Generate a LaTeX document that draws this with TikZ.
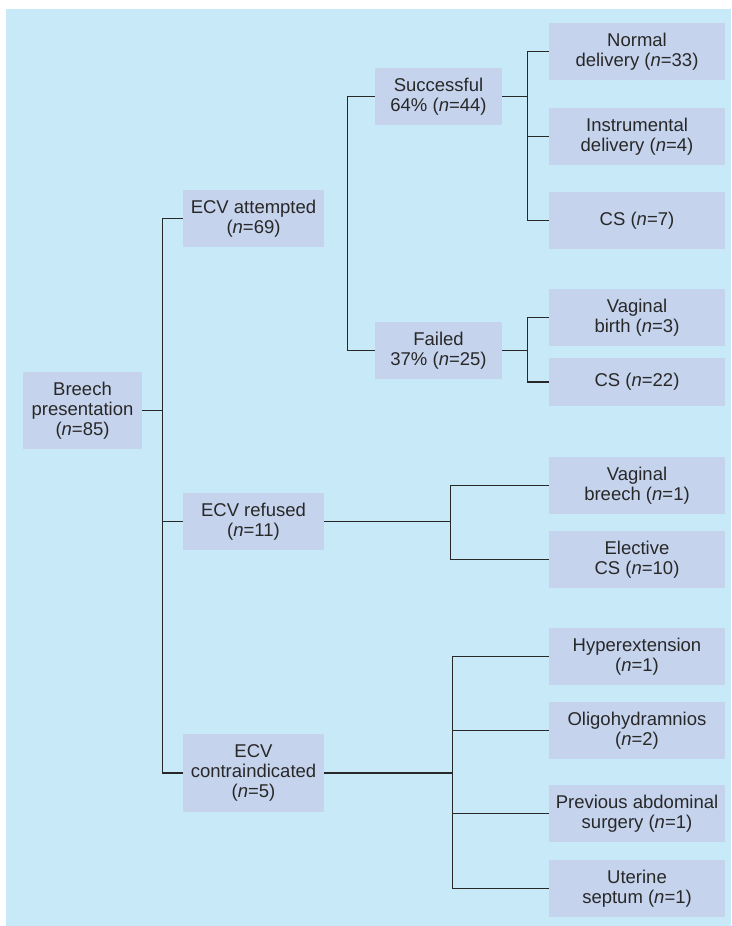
\documentclass[tikz,border=0pt]{standalone}
\usepackage{fontspec}
\setmainfont{Liberation Sans}
\definecolor{panel}{RGB}{199,233,248}
\definecolor{boxfill}{RGB}{197,211,237}
\definecolor{wire}{RGB}{40,40,40}

\begin{document}
\begin{tikzpicture}
      [x=1pt,y=-1pt,
       group/.style={rectangle,fill=boxfill,inner sep=0pt,align=center,text=wire,
         font=\fontsize{18.5}{20}\selectfont},
       leaf/.style={group,minimum width=176pt,minimum height=57pt},
       mid/.style={group,minimum width=141pt,minimum height=57pt},
       link/.style={draw=wire,line width=1.3pt}]
      \useasboundingbox (0,0) rectangle (731,926);
      \fill[panel] (6,9) rectangle (731,926);
      \node[group,minimum width=119pt,minimum height=77pt] (breech) at (82.5,410.5) {Breech\\presentation\\(\textit{n}=85)} ;
      \node[mid] (attempted) at (253.5,218.5) {ECV attempted\\(\textit{n}=69)} ;
      \node[mid] (refused) at (253.5,521.5) {ECV refused\\(\textit{n}=11)} ;
      \node[mid,minimum height=78pt] (contra) at (253.5,773) {ECV\\contraindicated\\(\textit{n}=5)} ;
      \node[group,minimum width=127pt,minimum height=57pt] (successful) at (438.5,96.5) {Successful\\64\% (\textit{n}=44)} ;
      \node[group,minimum width=127pt,minimum height=57pt] (failed) at (438.5,350.5) {Failed\\37\% (\textit{n}=25)} ;
      \node[leaf] (normal) at (637,51.5) {Normal\\delivery (\textit{n}=33)} ;
      \node[leaf] (instrumental) at (637,136.5) {Instrumental\\delivery (\textit{n}=4)} ;
      \node[leaf] (csseven) at (637,220.5) {CS (\textit{n}=7)} ;
      \node[leaf] (vagbirth) at (637,317.5) {Vaginal\\birth (\textit{n}=3)} ;
      \node[leaf,minimum height=48pt] (cstwentytwo) at (637,382) {CS (\textit{n}=22)} ;
      \node[leaf] (vagbreech) at (637,485.5) {Vaginal\\breech (\textit{n}=1)} ;
      \node[leaf] (elective) at (637,559.5) {Elective\\CS (\textit{n}=10)} ;
      \node[leaf] (hyper) at (637,656.5) {Hyperextension\\(\textit{n}=1)} ;
      \node[leaf] (oligo) at (637,730.5) {Oligohydramnios\\(\textit{n}=2)} ;
      \node[leaf] (surgery) at (637,813.5) {Previous abdominal\\surgery (\textit{n}=1)} ;
      \node[leaf] (septum) at (637,888.5) {Uterine\\septum (\textit{n}=1)} ;
      % first split
      \draw[link] (breech.east) -- ++(20,0) coordinate (trunk) ;
      \draw[link] (attempted.west) -| (trunk) |- (contra.west) ;
      \draw[link] (trunk |- refused.west) -- (refused.west) ;
      % ECV attempted outcome
      \draw[link] (successful.west) -- ++(-27,0) |- (failed.west) ;
      \draw[link] (successful.east) -- ++(25,0) coordinate (okbar) ;
      \draw[link] (normal.west) -| (okbar) |- (csseven.west) ;
      \draw[link] (okbar |- instrumental.west) -- (instrumental.west) ;
      \draw[link] (failed.east) -- ++(25,0) coordinate (failbar) ;
      \draw[link] (vagbirth.west) -| (failbar) |- (cstwentytwo.west) ;
      % refused
      \draw[link] (refused.east) -- ++(126,0) coordinate (refbar) ;
      \draw[link] (vagbreech.west) -| (refbar) |- (elective.west) ;
      % contraindicated
      \draw[link] (contra.east) -- ++(128,0) coordinate (contrabar) ;
      \draw[link] (hyper.west) -| (contrabar) |- (septum.west) ;
      \draw[link] (contrabar |- oligo.west) -- (oligo.west) ;
      \draw[link] (contrabar |- surgery.west) -- (surgery.west) ;
    \end{tikzpicture}
\end{document}
